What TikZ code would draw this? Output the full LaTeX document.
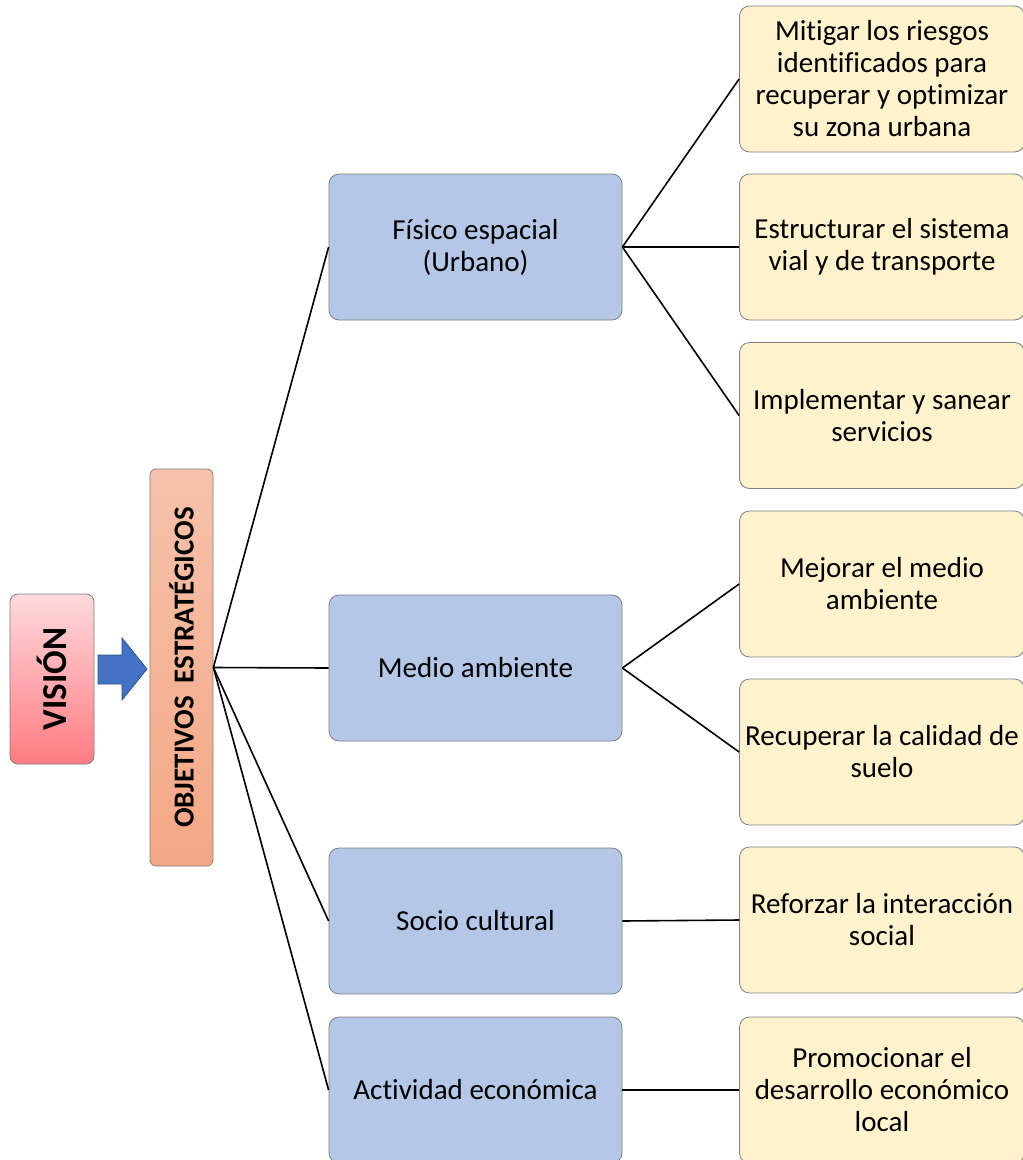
\documentclass[tikz,border=0pt]{standalone}
\usepackage{fontspec}
\setmainfont{Carlito}[Ligatures=CommonOff]

\definecolor{visionarriba}{HTML}{FFD9DD}
\definecolor{visionabajo}{HTML}{FF7C82}
\definecolor{objarriba}{HTML}{F6C2AB}
\definecolor{objabajo}{HTML}{F4A785}
\definecolor{ejeazul}{HTML}{B4C7E7}
\definecolor{metaamarillo}{HTML}{FFF2CC}
\definecolor{flechaazul}{HTML}{4472C4}
\definecolor{bordegris}{HTML}{7F7F7F}

\begin{document}
\begin{tikzpicture}[x=1pt, y=-1pt,
    caja/.style={draw=bordegris, line width=0.8pt, rounded corners=10pt,
        align=center, inner sep=0pt, font=\fontsize{29}{32}\selectfont},
    eje/.style={caja, fill=ejeazul, minimum width=293pt, minimum height=146pt},
    meta/.style={caja, fill=metaamarillo, minimum width=285pt, minimum height=146pt},
    enlace/.style={line width=1.6pt}]

    % Page frame, the right and bottom boxes run off the edge
    \useasboundingbox (0,0) rectangle (1023,1160);
    \clip (0,0) rectangle (1023,1160);

    % Vision and strategic objectives
    \node[caja, top color=visionarriba, bottom color=visionabajo,
        minimum width=84pt, minimum height=170pt, rounded corners=8pt,
        font=\bfseries\fontsize{35}{40}\selectfont] (vision) at (52,679) {\rotatebox{90}{VISIÓN}};
    \node[caja, top color=objarriba, bottom color=objabajo,
        minimum width=63pt, minimum height=397pt, rounded corners=6pt,
        font=\bfseries\fontsize{29}{32}\selectfont] (obj) at (181.5,667.5) {\rotatebox{90}{OBJETIVOS\ \ ESTRATÉGICOS}};

    % Block arrow between them
    \filldraw[fill=flechaazul, draw=flechaazul!70!black, line width=0.8pt]
        (98,655) -- (122,655) -- (122,638) -- (147,669) -- (122,700) -- (122,684) -- (98,684) -- cycle;

    % Axes
    \node[eje] (fisico) at (475.5,247) {Físico espacial\\(Urbano)};
    \node[eje] (medio) at (475.5,668) {Medio ambiente};
    \node[eje] (socio) at (475.5,921) {Socio cultural};
    \node[eje] (actividad) at (475.5,1090) {Actividad económica};

    % Goals
    \node[meta] (mitigar) at (882,79) {Mitigar los riesgos\\identificados para\\recuperar y optimizar\\su zona urbana};
    \node[meta] (vial) at (882,247) {Estructurar el sistema\\vial y de transporte};
    \node[meta] (servicios) at (882,415.5) {Implementar y sanear\\servicios};
    \node[meta] (mejorar) at (882,584) {Mejorar el medio\\ambiente};
    \node[meta] (suelo) at (882,752) {Recuperar la calidad de\\suelo};
    \node[meta] (social) at (882,920) {Reforzar la interacción\\social};
    \node[meta] (local) at (882,1090) {Promocionar el\\desarrollo económico\\local};

    % Connectors
    \foreach \e in {fisico,medio,socio,actividad}
        \draw[enlace] (obj.east) -- (\e.west);
    \foreach \m in {mitigar,vial,servicios}
        \draw[enlace] (fisico.east) -- (\m.west);
    \foreach \m in {mejorar,suelo}
        \draw[enlace] (medio.east) -- (\m.west);
    \draw[enlace] (socio.east) -- (social.west);
    \draw[enlace] (actividad.east) -- (local.west);

\end{tikzpicture}
\end{document}
